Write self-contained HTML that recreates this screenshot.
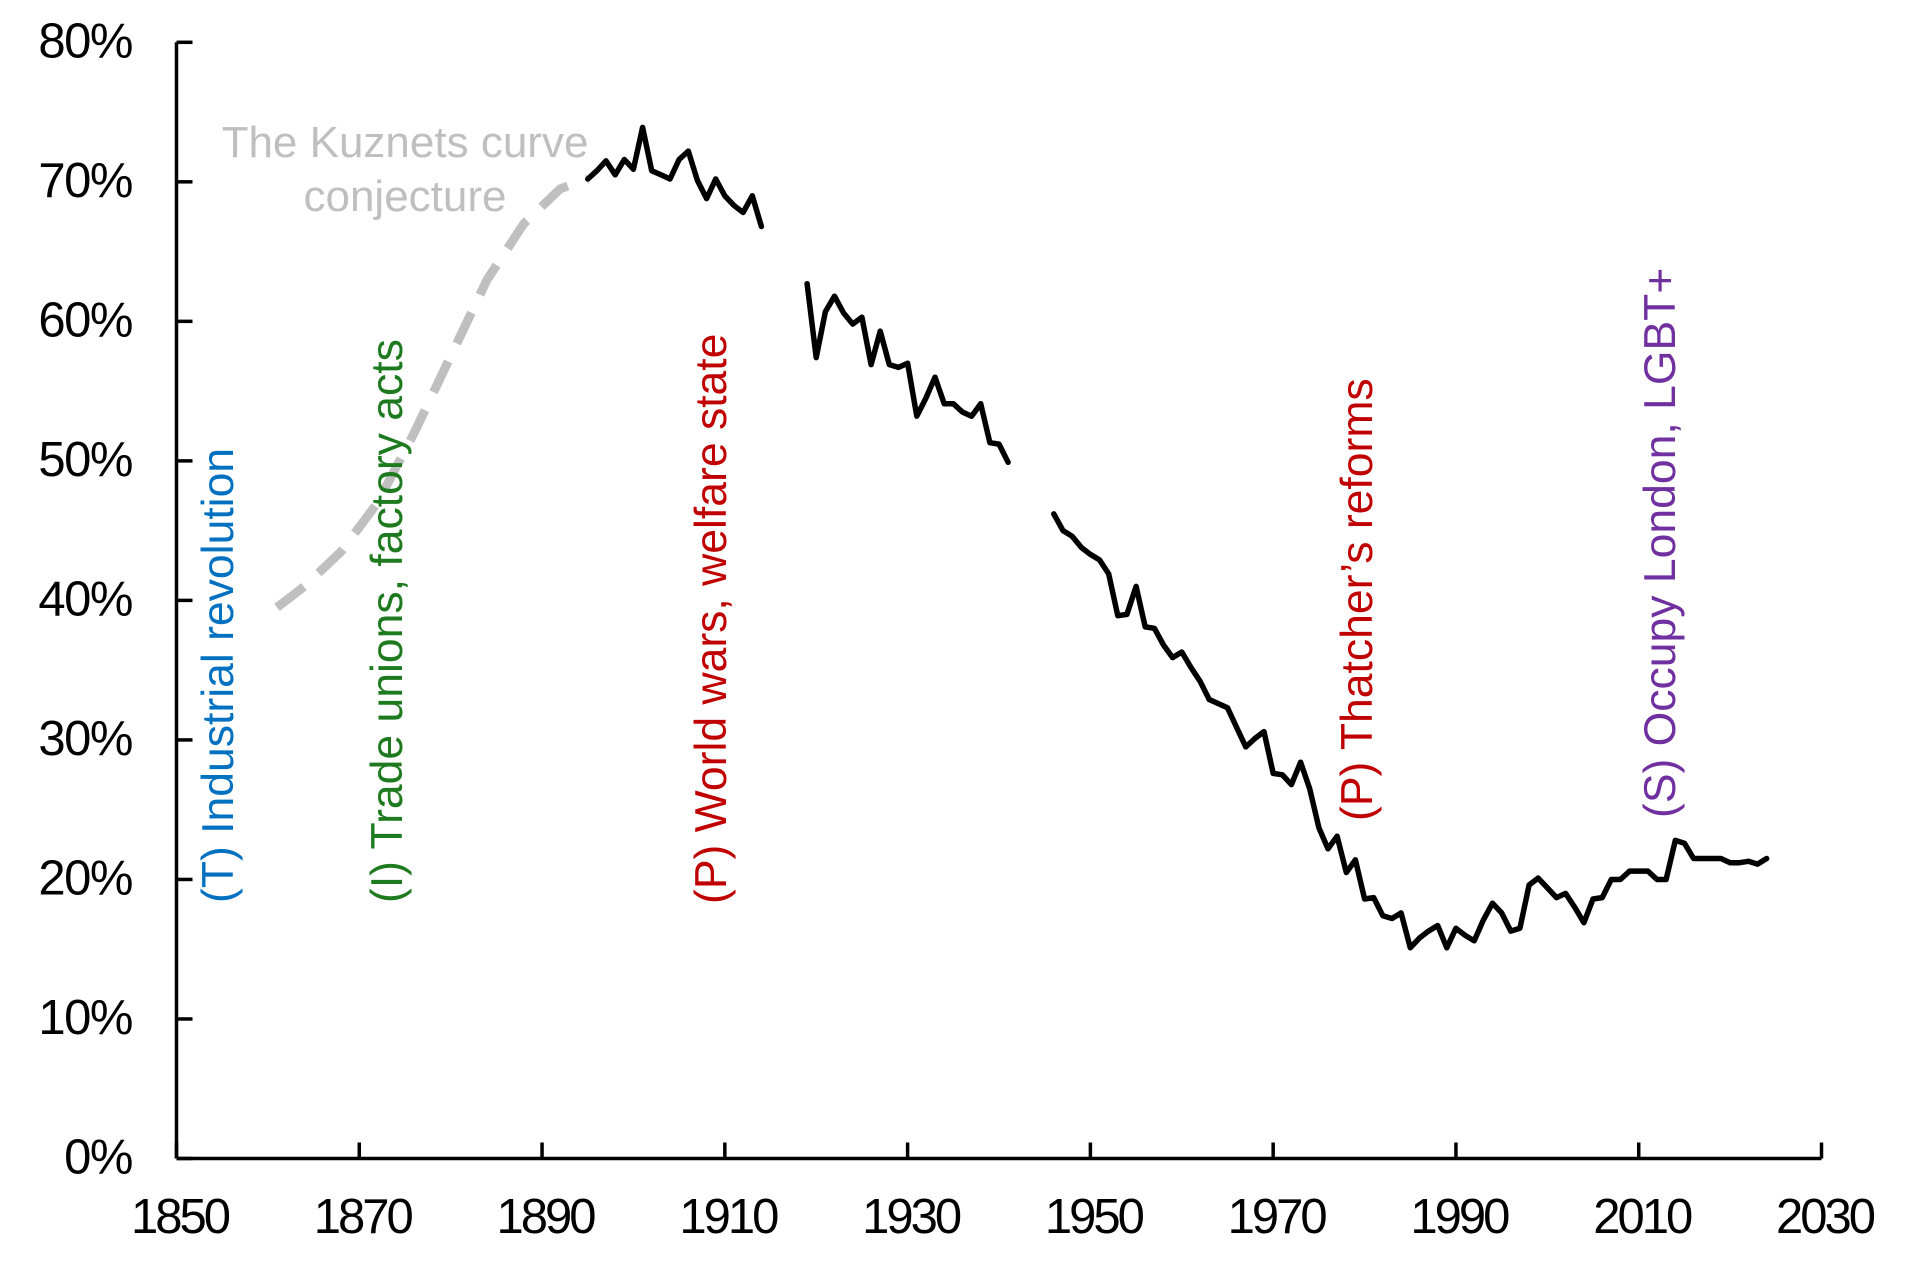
<!DOCTYPE html>
<html><head><meta charset="utf-8"><style>
html,body{margin:0;padding:0;background:#fff;}
svg{display:block;font-family:"Liberation Sans",Arial,sans-serif;}
</style></head><body>
<svg id="chart" width="1920" height="1275" viewBox="0 0 1920 1275" xmlns="http://www.w3.org/2000/svg">
<g id="axes"></g>
<g id="series"></g>
<g id="annotations">
  <text x="405" y="157" text-anchor="middle" font-size="44" fill="#bfbfbf">The Kuznets curve</text>
  <text x="405" y="211" text-anchor="middle" font-size="44" fill="#bfbfbf">conjecture</text>
  <text transform="translate(233,903) rotate(-90)" font-size="44.5" fill="#0070c0">(T) Industrial revolution</text>
  <text transform="translate(402,903) rotate(-90)" font-size="44.5" fill="#1e7a1e">(I) Trade unions, factory acts</text>
  <text transform="translate(726,904) rotate(-90)" font-size="44.5" fill="#c00000">(P) World wars, welfare state</text>
  <text transform="translate(1372,821) rotate(-90)" font-size="44.5" fill="#c00000">(P) Thatcher’s reforms</text>
  <text transform="translate(1675,818) rotate(-90)" font-size="44.5" fill="#7030a0">(S) Occupy London, LGBT+</text>
</g>
</svg>
<script>
const xTicks = [1850,1870,1890,1910,1930,1950,1970,1990,2010,2030];
const yTicks = [0,10,20,30,40,50,60,70,80];
const kuznetsYears = [1861,1864,1868,1872,1876,1880,1884,1888,1892,1895];
const kuznetsValues = [39.5,41,43.5,47,52,57.5,63,67,69.5,70.2];
const seg1Years = [1895,1896,1897,1898,1899,1900,1901,1902,1903,1904,1905,1906,1907,1908,1909,1910,1911,1912,1913,1914];
const seg1Values = [70.2,70.8,71.5,70.5,71.6,70.9,73.9,70.8,70.5,70.2,71.6,72.2,70.1,68.8,70.2,69.0,68.3,67.8,69.0,66.8];
const seg2Years = [1919,1920,1921,1922,1923,1924,1925,1926,1927,1928,1929,1930,1931,1932,1933,1934,1935,1936,1937,1938,1939,1940,1941];
const seg2Values = [62.7,57.4,60.7,61.8,60.6,59.8,60.3,56.9,59.3,56.9,56.7,57.0,53.2,54.5,56.0,54.1,54.1,53.5,53.2,54.1,51.3,51.2,49.9];
const seg3Years = [1946,1947,1948,1949,1950,1951,1952,1953,1954,1955,1956,1957,1958,1959,1960,1961,1962,1963,1964,1965,1966,1967,1968,1969,1970,1971,1972,1973,1974,1975,1976,1977,1978,1979,1980,1981,1982,1983,1984,1985,1986,1987,1988,1989,1990,1991,1992,1993,1994,1995,1996,1997,1998,1999,2000,2001,2002,2003,2004,2005,2006,2007,2008,2009,2010,2011,2012,2013,2014,2015,2016,2017,2018,2019,2020,2021,2022,2023,2024];
const seg3Values = [46.2,45.0,44.6,43.8,43.3,42.9,41.9,38.9,39.0,41.0,38.1,38.0,36.8,35.9,36.3,35.2,34.2,32.9,32.6,32.3,30.9,29.5,30.1,30.6,27.6,27.5,26.8,28.4,26.5,23.7,22.2,23.1,20.5,21.4,18.6,18.7,17.4,17.2,17.6,15.1,15.8,16.3,16.7,15.1,16.5,16.0,15.6,17.1,18.3,17.6,16.3,16.5,19.6,20.1,19.4,18.7,19.0,18.0,16.9,18.6,18.7,20.0,20.0,20.6,20.6,20.6,20.0,20.0,22.8,22.6,21.5,21.5,21.5,21.5,21.2,21.2,21.3,21.1,21.5];

const NS = 'http://www.w3.org/2000/svg';
const X0 = 176.5, X1 = 1821.5, Y0 = 1158.5, Y1 = 42.3;
function xScale(yr){ return X0 + (yr - 1850) / (2030 - 1850) * (X1 - X0); }
function yScale(v){ return Y0 - v / 80 * (Y0 - Y1); }
function mk(tag, attrs, parent){ const e = document.createElementNS(NS, tag); for (const k in attrs) e.setAttribute(k, attrs[k]); parent.appendChild(e); return e; }

const axes = document.getElementById('axes');
let el = mk('line', {x1:X0, y1:Y1, x2:X0, y2:Y0, stroke:'#000', 'stroke-width':3.5}, axes);


el = mk('line', {x1:X0, y1:Y0, x2:X1, y2:Y0, stroke:'#000', 'stroke-width':3.5}, axes);


yTicks.forEach(v => {
  const y = yScale(v);
  const t = mk('line', {x1:X0, y1:y, x2:X0 + 16, y2:y, stroke:'#000', 'stroke-width':3.5}, axes);
  
  
  const l = mk('text', {x:132, y:y + 15, 'text-anchor':'end', 'font-size':49, 'letter-spacing':-1.5, fill:'#000'}, axes);
  l.textContent = v + '%';
  
  
});
xTicks.forEach(yr => {
  const x = xScale(yr);
  const t = mk('line', {x1:x, y1:Y0, x2:x, y2:Y0 - 16, stroke:'#000', 'stroke-width':3.5}, axes);
  
  
  const l = mk('text', {x:x + 3, y:1233, 'text-anchor':'middle', 'font-size':49, 'letter-spacing':-3, fill:'#000'}, axes);
  l.textContent = yr;
  
  
});

const series = document.getElementById('series');
function pathD(years, vals){ return years.map((yr,i) => (i ? 'L' : 'M') + xScale(yr).toFixed(1) + ',' + yScale(vals[i]).toFixed(1)).join(' '); }
el = mk('path', {d:pathD(kuznetsYears, kuznetsValues), fill:'none', stroke:'#bfbfbf', 'stroke-width':9, 'stroke-dasharray':'34 20'}, series);


[[seg1Years, seg1Values, 'inequality-line-1895-1914'], [seg2Years, seg2Values, 'inequality-line-1919-1941'], [seg3Years, seg3Values, 'inequality-line-1946-2024']].forEach(s => {
  const p = mk('path', {d:pathD(s[0], s[1]), fill:'none', stroke:'#000', 'stroke-width':5.5, 'stroke-linejoin':'round', 'stroke-linecap':'round'}, series);
  
  
});
</script>
</body></html>
